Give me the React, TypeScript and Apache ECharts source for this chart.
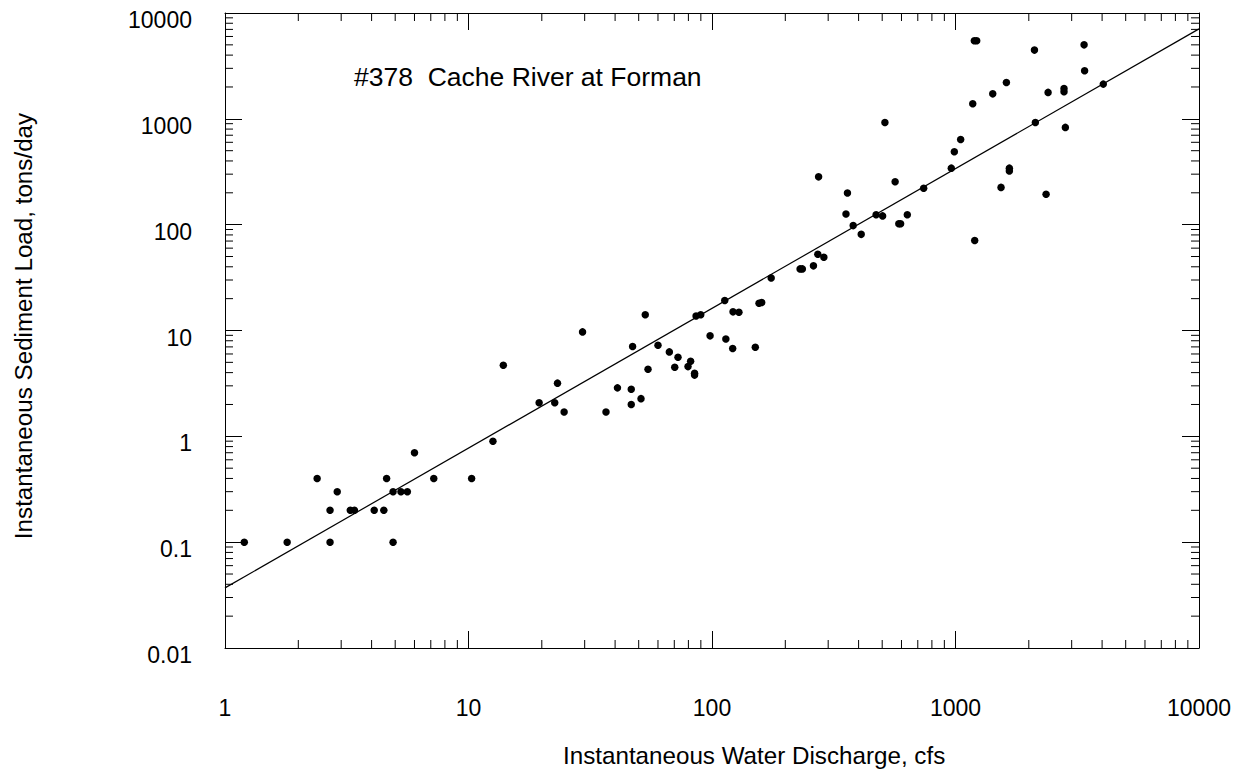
import React, { useEffect, useRef } from "react";
import * as echarts from "echarts";

// Instantaneous water discharge (cfs)
const discharge = [
  1.2, 1.8, 2.39, 2.7, 2.7, 2.89, 3.27, 3.4, 4.1, 4.49,
  4.61, 4.9, 4.9, 5.28, 5.61, 6.0, 7.2, 10.3, 12.6, 13.9,
  19.5, 22.6, 23.2, 24.7, 29.4, 36.7, 40.9, 46.6, 46.6, 47.2,
  51.1, 53.2, 54.6, 60, 66.8, 70.3, 72.5, 79.7, 81.7, 84.8,
  84.8, 86, 89.9, 98.2, 112.8, 114, 121.6, 122, 129, 150.6,
  156, 160, 175, 230, 235, 261, 272, 288, 274, 360,
  355, 380, 410, 513, 472, 502, 565, 585, 595, 634,
  740, 961, 989, 1050, 1177, 1195, 1222, 1199, 1422, 1538,
  1618, 1664, 1664, 2110, 2128, 2355, 2400, 2790, 2790, 2826,
  3373, 3390, 4045,
];

// Instantaneous sediment load (tons/day)
const sedimentLoad = [
  0.1, 0.1, 0.4, 0.2, 0.1, 0.3, 0.2, 0.2, 0.2, 0.2,
  0.4, 0.3, 0.1, 0.3, 0.3, 0.7, 0.4, 0.4, 0.9, 4.7,
  2.08, 2.08, 3.18, 1.7, 9.7, 1.7, 2.87, 2.79, 2.0, 7.05,
  2.27, 14.1, 4.3, 7.26, 6.28, 4.5, 5.59, 4.56, 5.12, 3.95,
  3.79, 13.7, 14.1, 8.9, 19.2, 8.3, 6.76, 15, 14.9, 6.95,
  18.1, 18.4, 31.4, 38.2, 38.2, 40.8, 52.6, 49.3, 283, 199,
  126, 98, 81, 923, 124, 121, 254, 102, 102, 124,
  221, 342, 488, 637, 1387, 5460, 5460, 70.8, 1722, 225,
  2203, 342, 322, 4460, 923, 194, 1778, 1936, 1800, 830,
  5000, 2844, 2128,
];

// Fitted rating curve end points
const regressionX = [1, 10000];
const regressionY = [0.037, 7080];

const xTickLabels = ["1", "10", "100", "1000", "10000"];
const yTickLabels = ["0.01", "0.1", "1", "10", "100", "1000", "10000"];
const minorMultipliers = [2, 3, 4, 5, 6, 7, 8, 9];
const xDecades = [1, 10, 100, 1000];
const yDecades = [0.01, 0.1, 1, 10, 100, 1000];

const titleText = "#378  Cache River at Forman";
const xTitle = "Instantaneous Water Discharge, cfs";
const yTitle = "Instantaneous Sediment Load, tons/day";

const X_MIN = 1;
const X_MAX = 10000;
const Y_MIN = 0.01;
const Y_MAX = 10000;

const FONT = "'Liberation Sans', Arial, Helvetica, sans-serif";

export default function App() {
  const ref = useRef<HTMLDivElement>(null);

  useEffect(() => {
    if (!ref.current) return;
    const chart = echarts.init(ref.current, null, { renderer: "svg" });

    const minorTicks: number[][] = [];
    xDecades.forEach((d) =>
      minorMultipliers.forEach((m) => {
        minorTicks.push([m * d, Y_MIN, 0]);
        minorTicks.push([m * d, Y_MAX, 1]);
      })
    );
    yDecades.forEach((d) =>
      minorMultipliers.forEach((m) => {
        minorTicks.push([X_MIN, m * d, 2]);
        minorTicks.push([X_MAX, m * d, 3]);
      })
    );

    const baseAxis = {
      type: "log",
      logBase: 10,
      axisLine: { show: true, onZero: false, lineStyle: { color: "#000", width: 1 } },
      axisTick: { show: true, inside: true, length: 17, lineStyle: { color: "#000", width: 1 } },
      splitLine: { show: false },
      minorTick: { show: false },
      minorSplitLine: { show: false },
    };

    const option: any = {
      animation: false,
      backgroundColor: "#fff",
      grid: { left: 225, top: 13, width: 974, height: 635, containLabel: false },
      xAxis: [
        {
          ...baseAxis,
          min: X_MIN,
          max: X_MAX,
          position: "bottom",
          axisLabel: {
            show: true,
            margin: 48,
            fontSize: 23,
            color: "#000",
            fontFamily: FONT,
            formatter: (v: number) => xTickLabels[Math.round(Math.log10(v))],
          },
        },
        {
          ...baseAxis,
          min: X_MIN,
          max: X_MAX,
          position: "top",
          axisLabel: { show: false },
        },
      ],
      yAxis: [
        {
          ...baseAxis,
          min: Y_MIN,
          max: Y_MAX,
          position: "left",
          axisLabel: {
            show: true,
            margin: 33,
            fontSize: 23,
            color: "#000",
            fontFamily: FONT,
            verticalAlign: "top",
            lineHeight: 14,
            formatter: (v: number) => yTickLabels[Math.round(Math.log10(v)) + 2],
          },
        },
        {
          ...baseAxis,
          min: Y_MIN,
          max: Y_MAX,
          position: "right",
          axisLabel: { show: false },
        },
      ],
      series: [
        {
          type: "custom",
          coordinateSystem: "cartesian2d",
          xAxisIndex: 0,
          yAxisIndex: 0,
          clip: false,
          silent: true,
          encode: { x: 0, y: 1 },
          data: minorTicks,
          renderItem: (_params: any, api: any) => {
            const p = api.coord([api.value(0), api.value(1)]);
            const side = api.value(2);
            const L = 8;
            let dx = 0;
            let dy = 0;
            if (side === 0) dy = -L;
            else if (side === 1) dy = L;
            else if (side === 2) dx = L;
            else dx = -L;
            return {
              type: "line",
              shape: { x1: p[0], y1: p[1], x2: p[0] + dx, y2: p[1] + dy },
              style: { stroke: "#000", lineWidth: 1 },
            };
          },
          z: 1,
        },
        {
          type: "line",
          xAxisIndex: 0,
          yAxisIndex: 0,
          data: regressionX.map((x, i) => [x, regressionY[i]]),
          showSymbol: false,
          symbol: "none",
          lineStyle: { color: "#000", width: 1.2 },
          silent: true,
          z: 2,
        },
        {
          type: "scatter",
          xAxisIndex: 0,
          yAxisIndex: 0,
          data: discharge.map((x, i) => [x, sedimentLoad[i]]),
          symbol: "circle",
          symbolSize: 7.5,
          itemStyle: { color: "#000", opacity: 1 },
          silent: true,
          z: 3,
        },
      ],
      graphic: [
        {
          type: "text",
          x: 354,
          y: 77,
          style: {
            text: titleText,
            fontSize: 26.5,
            fontFamily: FONT,
            fill: "#000",
            align: "left",
            verticalAlign: "middle",
          },
        },
        {
          type: "text",
          x: 563,
          y: 755,
          style: {
            text: xTitle,
            fontSize: 24.2,
            fontFamily: FONT,
            fill: "#000",
            align: "left",
            verticalAlign: "middle",
          },
        },
        {
          type: "text",
          x: 23,
          y: 326,
          rotation: Math.PI / 2,
          style: {
            text: yTitle,
            fontSize: 24.2,
            fontFamily: FONT,
            fill: "#000",
            align: "center",
            verticalAlign: "middle",
          },
        },
      ],
    };

    chart.setOption(option);
    return () => chart.dispose();
  }, []);

  return (
    <div
      ref={ref}
      style={{ position: "absolute", left: 0, top: 0, width: 1244, height: 774, background: "#fff" }}
    />
  );
}
